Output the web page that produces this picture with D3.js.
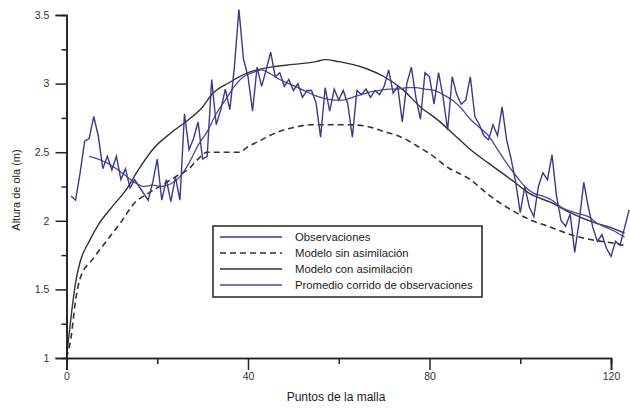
<!DOCTYPE html>
<html><head><meta charset="utf-8">
<script src="https://cdn.jsdelivr.net/npm/d3@7"></script>
<style>body{margin:0;background:#fff}svg{display:block}text{font-family:"Liberation Sans",Arial,sans-serif}</style>
</head><body><svg id="c" width="630" height="408"></svg>
<script>
// Observaciones (x = 1..124)
const obsStart = 1;
const obs = [2.18,2.15,2.35,2.58,2.6,2.76,2.62,2.38,2.47,2.37,2.47,2.3,2.38,2.24,2.3,2.25,2.2,2.15,2.28,2.45,
2.15,2.3,2.14,2.32,2.15,2.78,2.52,2.6,2.72,2.45,2.47,3.03,2.7,2.81,2.96,2.81,3.12,3.54,3.18,3.05,
2.8,3.12,2.98,3.1,3.23,3.05,3.08,2.98,3.03,2.95,3.0,2.9,2.95,2.95,2.86,2.61,2.97,2.8,2.96,2.88,
2.95,2.85,2.61,2.95,2.92,2.96,2.9,2.95,2.92,2.98,3.1,2.93,2.98,2.72,3.0,3.12,2.9,2.74,3.08,3.05,
2.85,3.08,2.9,2.66,3.05,2.92,2.85,2.88,3.05,2.76,2.7,2.62,2.59,2.7,2.62,2.83,2.59,2.45,2.28,2.06,
2.25,2.1,2.03,2.25,2.35,2.3,2.48,2.18,2.0,1.96,2.05,1.77,2.0,2.28,2.1,1.95,1.85,1.9,1.8,1.74,
1.85,1.82,1.95,2.08];
// Promedio corrido de observaciones
const meanX = [5,7,9,11,13,15,17,19,21,23,25,27,29,31,33,35,37,39,41,43,45,47,49,51,53,55,57,59,61,63,65,67,69,71,73,75,77,79,81,83,85,87,89,91,93,95,97,99,101,103,105,107,109,111,113,115,117,119,121,123];
const meanY = [2.47,2.45,2.42,2.38,2.33,2.28,2.25,2.26,2.25,2.27,2.32,2.42,2.55,2.65,2.78,2.88,2.98,3.05,3.08,3.1,3.07,3.03,3.0,2.97,2.94,2.91,2.89,2.88,2.88,2.9,2.92,2.94,2.95,2.96,2.96,2.97,2.97,2.96,2.95,2.92,2.88,2.82,2.74,2.68,2.62,2.52,2.42,2.33,2.25,2.2,2.18,2.15,2.1,2.07,2.05,2.03,1.98,1.95,1.92,1.88];
// Modelo con asimilación
const conX = [0,1,2,3,5,7,10,13,16,19,23,27,30,32,36,40,45,50,55,57,60,63,66,70,74,78,82,85,89,93,98,102,107,111,116,120,123];
const conY = [1.0,1.3,1.55,1.7,1.85,1.97,2.1,2.22,2.38,2.52,2.64,2.74,2.83,2.92,3.01,3.08,3.12,3.14,3.16,3.175,3.16,3.14,3.11,3.05,2.96,2.83,2.73,2.64,2.52,2.42,2.30,2.2,2.13,2.06,1.99,1.95,1.91];
// Modelo sin asimilación
const sinX = [0,1,2,3,6,9,12,15,18,21,24,27,29,31,35,38,40,43,46,50,54,58,62,66,70,73,75,78,80,84,89,93,98,102,107,111,116,120,123];
const sinY = [1.0,1.15,1.42,1.58,1.73,1.86,1.99,2.13,2.2,2.26,2.32,2.38,2.45,2.5,2.5,2.5,2.54,2.59,2.64,2.68,2.7,2.7,2.7,2.69,2.65,2.62,2.59,2.53,2.49,2.39,2.3,2.19,2.08,2.01,1.95,1.9,1.86,1.84,1.82];
const xMajor = [0,40,80,120];
const xMinor = [20,60,100];
const yMajor = [1,1.5,2,2.5,3,3.5];
const yMinor = [1.25,1.75,2.25,2.75,3.25];
const legendLabels = ["Observaciones","Modelo sin asimilación","Modelo con asimilación","Promedio corrido de observaciones"];

const svg = d3.select("#c");
const x = d3.scaleLinear().domain([0,120]).range([66.5,611]);
const y = d3.scaleLinear().domain([1,3.5]).range([358,15]);
const obsColor = "#3a3a88", meanColor = "#4a4a9a", modelColor = "#333";

const line = d3.line().x(d=>x(d[0])).y(d=>y(d[1]));
const smooth = d3.line().x(d=>x(d[0])).y(d=>y(d[1])).curve(d3.curveMonotoneX);

svg.append("path").datum(sinX.map((v,i)=>[v,sinY[i]])).attr("d",smooth)
  .attr("fill","none").attr("stroke",modelColor).attr("stroke-width",1.6).attr("stroke-dasharray","6,4");
svg.append("path").datum(conX.map((v,i)=>[v,conY[i]])).attr("d",smooth)
  .attr("fill","none").attr("stroke",modelColor).attr("stroke-width",1.4);
svg.append("path").datum(meanX.map((v,i)=>[v,meanY[i]])).attr("d",smooth)
  .attr("fill","none").attr("stroke",meanColor).attr("stroke-width",1.3);
svg.append("path").datum(obs.map((v,i)=>[obsStart+i,v])).attr("d",line)
  .attr("fill","none").attr("stroke",obsColor).attr("stroke-width",1.4);

// axes
const ax = svg.append("g").attr("transform","translate(0,358)");
ax.call(d3.axisBottom(x).tickValues(xMajor).tickSize(12).tickFormat(d3.format("d")));
ax.append("g").call(d3.axisBottom(x).tickValues(xMinor).tickSize(6).tickFormat(""));
const ay = svg.append("g").attr("transform","translate(66.5,0)");
ay.call(d3.axisLeft(y).tickValues(yMajor).tickSize(11).tickFormat(d3.format("")));
ay.append("g").call(d3.axisLeft(y).tickValues(yMinor).tickSize(5).tickFormat(""));
svg.selectAll(".domain").attr("stroke","#222").attr("stroke-width",1.6);
svg.selectAll(".tick line").attr("stroke","#222").attr("stroke-width",1.5);
svg.selectAll(".tick text").attr("font-size",10.5).attr("fill","#333");
ay.selectAll(".tick text").attr("dx","-0.3em");

svg.append("text").attr("x",336).attr("y",401).attr("text-anchor","middle").attr("font-size",12).attr("fill","#222").text("Puntos de la malla");
svg.append("text").attr("transform","translate(20,190) rotate(-90)").attr("text-anchor","middle").attr("font-size",11).attr("fill","#222").text("Altura de ola (m)");

// legend
const lg = svg.append("g");
lg.append("rect").attr("x",213).attr("y",226).attr("width",269).attr("height",71).attr("fill","#fff").attr("stroke","#222").attr("stroke-width",1.5);
const styles = [{c:obsColor,d:null,w:1.4},{c:modelColor,d:"6,4",w:1.6},{c:modelColor,d:null,w:1.4},{c:meanColor,d:null,w:1.3}];
legendLabels.forEach((t,i)=>{
  const yy = 237 + i*16;
  lg.append("line").attr("x1",220).attr("x2",282).attr("y1",yy).attr("y2",yy)
    .attr("stroke",styles[i].c).attr("stroke-width",styles[i].w).attr("stroke-dasharray",styles[i].d);
  lg.append("text").attr("x",295).attr("y",yy+4).attr("font-size",11.3).attr("fill","#222").text(t);
});
</script></body></html>
